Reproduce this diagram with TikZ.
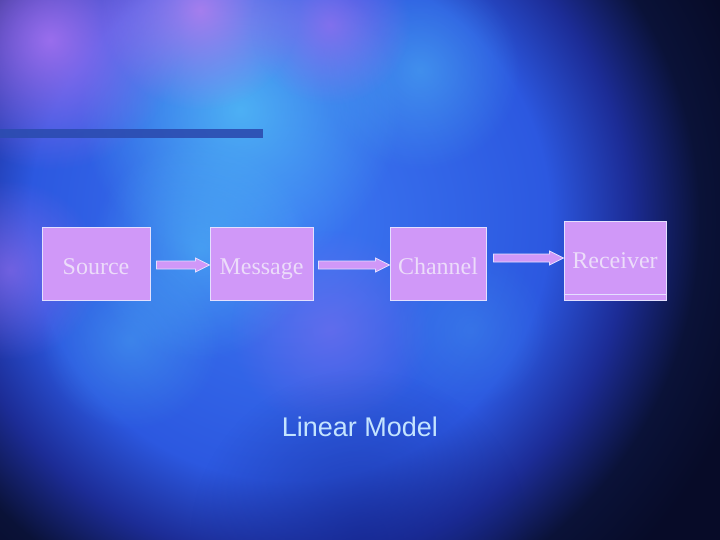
\documentclass[tikz,border=0pt]{standalone}
\usepackage{fontspec}
\setmainfont{Liberation Serif}
\newfontfamily\arialish{Liberation Sans}
\usetikzlibrary{calc,fadings}
\tikzfading[name=softblob, inner color=transparent!0, outer color=transparent!100]
\definecolor{navy}{HTML}{070B28}
\definecolor{deepblue}{HTML}{142690}
\definecolor{skyc}{HTML}{55C8F8}
\definecolor{lilac}{HTML}{A070F0}
\definecolor{pinkish}{HTML}{C080F0}
\definecolor{boxfill}{HTML}{D098F8}
\definecolor{boxline}{HTML}{E4E0FF}
\definecolor{boxtext}{HTML}{ECDCFA}
\definecolor{barblue}{HTML}{2C4CB0}
\definecolor{titletext}{HTML}{C4E4FF}
\definecolor{sA}{HTML}{3C78F2}
\definecolor{sB}{HTML}{2C58E0}
\definecolor{sC}{HTML}{1C2C96}
\definecolor{sD}{HTML}{0A1238}
\pgfdeclareradialshading{sphere}{\pgfpoint{0bp}{0bp}}{color(0bp)=(sA); color(13bp)=(sB); color(17bp)=(sC); color(20.5bp)=(sD); color(24bp)=(navy); color(50bp)=(navy)}
\tikzset{
  blk/.style={draw=boxline, fill=boxfill, line width=1pt, inner sep=0pt, text=boxtext,
    font=\fontsize{24}{28}\selectfont, text height=21pt, text depth=1pt},
  blockarrow/.style={draw=boxline, fill=boxfill, line width=0.8pt,
    to path={let \p1=(\tikztostart), \p2=(\tikztotarget) in
      (\x1,\y1+4pt) -- (\x2-14pt,\y1+4pt) -- (\x2-14pt,\y1+7pt) -- (\x2,\y1)
      -- (\x2-14pt,\y1-7pt) -- (\x2-14pt,\y1-4pt) -- (\x1,\y1-4pt) -- cycle}},
  blob/.style={path fading=softblob}
}
\begin{document}
\begin{tikzpicture}[x=1pt,y=-1pt]
\useasboundingbox (0,0) rectangle (720,540);
% background
\begin{scope}
\clip (0,0) rectangle (720,540);
\fill[navy] (0,0) rectangle (720,540);
\shade[shading=sphere] (290,220) circle (500);
\fill[skyc, blob, opacity=0.75] (240,110) circle (160);
\fill[skyc, blob, opacity=0.5] (200,250) circle (110);
\fill[skyc, blob, opacity=0.45] (420,70) circle (100);
\fill[lilac, blob, opacity=0.95] (50,40) circle (130);
\fill[pinkish, blob, opacity=0.8] (200,10) circle (100);
\fill[lilac, blob, opacity=0.7] (330,25) circle (80);
\fill[lilac, blob, opacity=0.6] (10,270) circle (90);
\fill[skyc, blob, opacity=0.35] (130,340) circle (90);
\fill[lilac, blob, opacity=0.4] (330,330) circle (100);
\fill[skyc, blob, opacity=0.2] (470,330) circle (80);
\fill[deepblue, blob, opacity=0.6] (360,540) circle (170);
\end{scope}
% bar
\fill[barblue, opacity=0.9] (0,129) rectangle (263,138);
% boxes
\node[blk, minimum width=108pt, minimum height=72pt] (src) at (96,264) {Source};
\node[blk, minimum width=103pt, minimum height=72pt] (msg) at (261.5,264) {Message};
\node[blk, minimum width=96pt, minimum height=72pt] (chn) at (438,264) {Channel};
\node[blk, minimum width=102pt, minimum height=78pt] (rcv) at (615,261) {};
\node[text=boxtext, font=\fontsize{24}{28}\selectfont, anchor=base] (rcvtxt) at (615,268) {Receiver};
\draw[boxline, line width=1pt] ($(rcv.south west)+(0,-6)$) -- ($(rcv.south east)+(0,-6)$);
% arrows
\draw[blockarrow] ($(src.east)+(6,1)$) to (msg.west);
\draw[blockarrow] ($(msg.east)+(5,1)$) to (chn.west);
\coordinate (a3) at ($(chn.east)+(7,-6)$);
\draw[blockarrow] (a3) to (rcv.west |- a3);
% title
\node[text=titletext, font=\arialish\fontsize{27}{32}\selectfont] (title) at (360,427) {Linear Model};
\end{tikzpicture}
\end{document}
